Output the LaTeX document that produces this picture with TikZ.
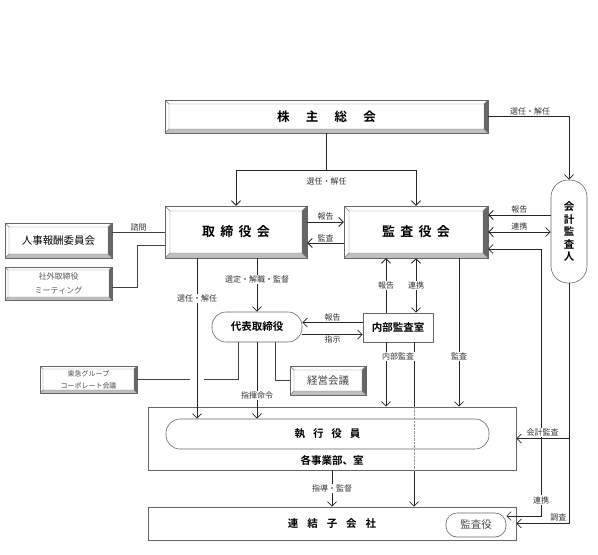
\documentclass[tikz,border=0pt]{standalone}
\usepackage{fontspec}
\setmainfont{Noto Sans CJK JP}[BoldFont={Noto Sans CJK JP Bold}]
\usetikzlibrary{arrows.meta,positioning}

\newcommand{\bigfont}{\bfseries\fontsize{13}{14}\selectfont}
\newcommand{\midfont}{\bfseries\fontsize{10.5}{12}\selectfont}
\newcommand{\smlfont}{\fontsize{10.5}{12}\selectfont}
\newcommand{\tinyfont}{\fontsize{8}{12}\selectfont}

\tikzset{
  bevel/.style={draw=black!60, fill=white, inner sep=0pt, path picture={
      \path (path picture bounding box.north west) coordinate (bnw)
            (path picture bounding box.north east) coordinate (bne)
            (path picture bounding box.south west) coordinate (bsw)
            (path picture bounding box.south east) coordinate (bse);
      \fill[black!60] (bne) -- (bse) -- ([shift={(-#1,#1)}]bse) -- ([shift={(-#1,-#1)}]bne) -- cycle;
      \fill[black!25] (bsw) -- (bse) -- ([shift={(-#1,#1)}]bse) -- ([shift={(#1,#1)}]bsw) -- cycle;
      \draw[black!50, line width=0.4pt] ([shift={(#1,-#1)}]bnw) rectangle ([shift={(-#1,#1)}]bse)
        (bnw) -- ++(#1,-#1) (bne) -- ++(-#1,-#1) (bsw) -- ++(#1,#1) (bse) -- ++(-#1,#1);
  }},
  bevel/.default=4pt,
  plain/.style={draw=black!60, fill=white, inner sep=0pt, line width=0.6pt},
  lbl/.style={font=\tinyfont, text=black!80, inner sep=1pt},
  conn/.style={draw=black!75, line width=0.6pt},
  arr/.style={draw=black!85, line width=0.8pt, -{Straight Barb[length=4.5pt,width=9pt]}},
  arrs/.style={arr, {Straight Barb[length=4.5pt,width=9pt]}-{Straight Barb[length=4.5pt,width=9pt]}},
}

\begin{document}
\begin{tikzpicture}[x=1pt, y=-1pt]
\useasboundingbox (0,0) rectangle (598,555);

% boxes
\node[bevel, minimum width=323pt, minimum height=33pt, font=\bfseries\fontsize{12.5}{13}\selectfont] (gm) at (326.5,116.5)
    {株\hspace{1.3em}主\hspace{1.3em}総\hspace{1.3em}会};
\node[bevel=5pt, minimum width=142pt, minimum height=52pt, font=\bigfont] (board) at (236,232)
    {取\hspace{0.4em}締\hspace{0.4em}役\hspace{0.4em}会};
\node[bevel=5pt, minimum width=144pt, minimum height=52pt, font=\bigfont] (audit) at (416,232)
    {監\hspace{0.4em}査\hspace{0.4em}役\hspace{0.4em}会};
\node[plain, rounded corners=17pt, minimum width=36pt, minimum height=103pt, align=center,
    font=\bfseries\fontsize{10.5}{12.5}\selectfont] (accnt) at (569,231.5) {会\\計\\監\\査\\人};

\node[bevel, minimum width=107pt, minimum height=35pt, font=\smlfont] (hr) at (58.5,240.5) {人事報酬委員会};
\node[bevel=3pt, minimum width=107pt, minimum height=33pt, align=center, text=black!65,
    font=\fontsize{8}{14}\selectfont] (outdir) at (58.5,283.5) {社外取締役\\ミーティング};

\node[plain, rounded corners=14pt, minimum width=90pt, minimum height=30pt, font=\midfont] (rep) at (257,327) {代表取締役};
\node[plain, minimum width=70pt, minimum height=29pt, font=\midfont] (ia) at (398,327.5) {内部監査室};

\node[bevel=3pt, minimum width=97pt, minimum height=27pt, align=center, text=black!70,
    font=\fontsize{7}{12}\selectfont] (tokyu) at (88.5,379.5) {東急グループ\\コーポレート会議};
\node[bevel, minimum width=76pt, minimum height=29pt, font=\smlfont, text=black!75] (mgmt) at (328,380.5) {経営会議};

\node[plain, minimum width=368pt, minimum height=63pt] (exec) at (332,438.5) {};
\node[plain, rounded corners=14pt, minimum width=323pt, minimum height=30pt, font=\midfont] (officers) at (327.5,434)
    {執\hspace{0.75em}行\hspace{0.75em}役\hspace{0.75em}員};
\node[font=\midfont, inner sep=1pt] (dept) at (332,460) {各事業部、室};

\node[plain, minimum width=368pt, minimum height=33pt, font=\midfont] (sub) at (332,523.5)
    {連\hspace{0.85em}結\hspace{0.85em}子\hspace{0.85em}会\hspace{0.85em}社};
\node[plain, rounded corners=11pt, minimum width=60pt, minimum height=24pt, font=\smlfont, text=black!70] (subaud) at (476,525) {監査役};

% 株主総会 -> 取締役会, 監査役会, 会計監査人
\coordinate (split) at (326.5,170);
\draw[conn, draw=black!85, line width=0.8pt] (gm.south) -- (split) node[lbl, below=6pt] {選任・解任};
\draw[arr] (split) -| (board.north);
\draw[arr] (split) -| (audit.north);
\draw[arr] (gm.east) -| (accnt.north) node[lbl, above, pos=0.26] {選任・解任};

% 取締役会 <-> 監査役会
\coordinate (ba1) at ([yshift=10pt]board.east);
\draw[arr] (ba1) -- (ba1 -| audit.west) node[lbl, midway, above] {報告};
\coordinate (ba2) at ([yshift=-11pt]board.east);
\draw[arr] (ba2 -| audit.west) -- (ba2) node[lbl, midway, above] {監査};

% 会計監査人 <-> 監査役会
\coordinate (aa1) at ([yshift=17pt]audit.east);
\draw[arr] (aa1 -| accnt.west) -- (aa1) node[lbl, midway, above] {報告};
\draw[arrs] (audit.east) -- (audit.east -| accnt.west) node[lbl, midway, above] {連携};

% 子会社監査役 <-> 監査役会
\coordinate (aa2) at ([yshift=-17pt]audit.east);
\coordinate (sa) at ([yshift=9pt]subaud.east);
\coordinate (col) at (541,0);
\draw[arrs, line width=0.6pt] (aa2) -| (col |- sa) node[lbl, fill=white, pos=0.97] {連携} -- (sa);

% 会計監査人 -> 執行役員, 連結子会社
\draw[arr] (accnt.south) |- (exec.east) node[lbl, fill=white, above=1pt, pos=0.75] {会計監査};
\draw[arr] (accnt.south) |- (sub.east) node[lbl, above=1pt, pos=0.6] {調査};

% 諮問
\draw[conn] (board.west -| hr.east) -- (board.west) node[lbl, midway, above] {諮問};
\coordinate (ob) at ([yshift=-13pt]board.west);
\draw[conn] ([yshift=-4pt]outdir.east) -- ++(25,0) |- (ob);

% 取締役会 -> 執行役員, 代表取締役
\coordinate (b1) at ([xshift=-39pt]board.south);
\draw[arr] (b1) -- (b1 |- officers.north) node[lbl, fill=white, pos=0.25] {選任・解任};
\draw[arr] (board.south -| rep.north) -- (rep.north) node[lbl, fill=white, pos=0.4] {選定・解職・監督};

% 代表取締役 <-> 内部監査室
\coordinate (ri1) at ([yshift=5pt]ia.west);
\draw[arr] (ri1) -- (ri1 -| rep.east) node[lbl, midway, above] {報告};
\coordinate (ri2) at ([yshift=-7pt]ia.west);
\draw[arr] (ri2 -| rep.east) -- (ri2) node[lbl, midway, below] {指示};

% 内部監査室 -> 監査役会
\coordinate (i1) at ([xshift=-12pt]ia.north);
\draw[arr] (i1) -- (i1 |- audit.south) node[lbl, fill=white, midway] {報告};
\coordinate (i2) at ([xshift=18pt]ia.north);
\draw[arrs] (i2) -- (i2 |- audit.south) node[lbl, fill=white, midway] {連携};

% 内部監査
\coordinate (i3) at ([xshift=-12pt]ia.south);
\draw[arr] (i3) -- (i3 |- exec.north);
\coordinate (i4) at ([xshift=16pt]ia.south);
\draw[arr] (i4) -- (i4 |- exec.north) (i4 |- exec.south) -- (i4 |- sub.north);
\draw[black!40, densely dotted] (i4 |- exec.north) -- (i4 |- exec.south);
\node[lbl, fill=white, below=9pt of ia] (ial) {内部監査};

% 監査
\coordinate (a3) at ([xshift=43pt]audit.south);
\draw[arr] (a3) -- (a3 |- exec.north) node[lbl, fill=white, pos=0.66] {監査};

% 代表取締役 -> 執行役員, 東急, 経営会議
\draw[arr] (rep.south) -- (rep.south |- officers.north) node[lbl, fill=white, pos=0.7] {指揮命令};
\coordinate (r3) at ([xshift=-19pt]rep.south);
\draw[conn, shorten >=7pt] (r3) |- (b1 |- tokyu.east);
\draw[conn, shorten <=7pt] (b1 |- tokyu.east) -- (tokyu.east);
\coordinate (r4) at ([xshift=18pt]rep.south);
\draw[conn] (r4) |- (mgmt.west);

% 各事業部 -> 連結子会社
\draw[arr] (exec.south) -- (sub.north) node[lbl, fill=white, midway] {指導・監督};
\end{tikzpicture}
\end{document}
